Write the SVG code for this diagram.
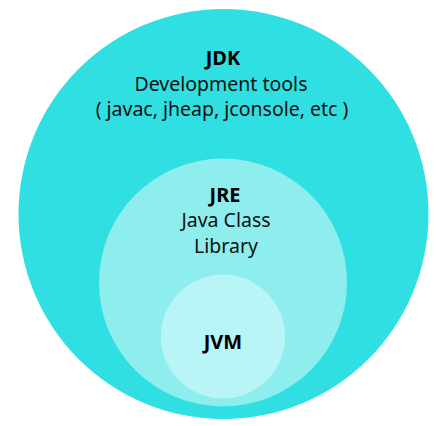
<svg xmlns="http://www.w3.org/2000/svg" width="445" height="426" viewBox="0 0 445 426">
<style>
text{font-family:"Noto Sans","Open Sans",sans-serif;font-size:19.5px;fill:#111;text-anchor:middle}
.b{font-weight:bold;font-size:20px;fill:#000}
</style>
<rect width="445" height="426" fill="#fff"/>
<g id="jdk">
<circle cx="223.5" cy="214" r="205" fill="#30DFE2"/>
<text class="b" x="223" y="65">JDK</text>
<text x="221" y="91">Development tools</text>
<text x="222" y="116">( javac, jheap, jconsole, etc )</text>
</g>
<g id="jre">
<circle cx="223" cy="282.5" r="124" fill="#8EEEED"/>
<text class="b" x="225" y="202">JRE</text>
<text x="226" y="227">Java Class</text>
<text x="226" y="253">Library</text>
</g>
<g id="jvm">
<circle cx="223" cy="336.5" r="62" fill="#B9F5F6"/>
<text class="b" x="223" y="349">JVM</text>
</g>
<g id="connectors"/>
</svg>
